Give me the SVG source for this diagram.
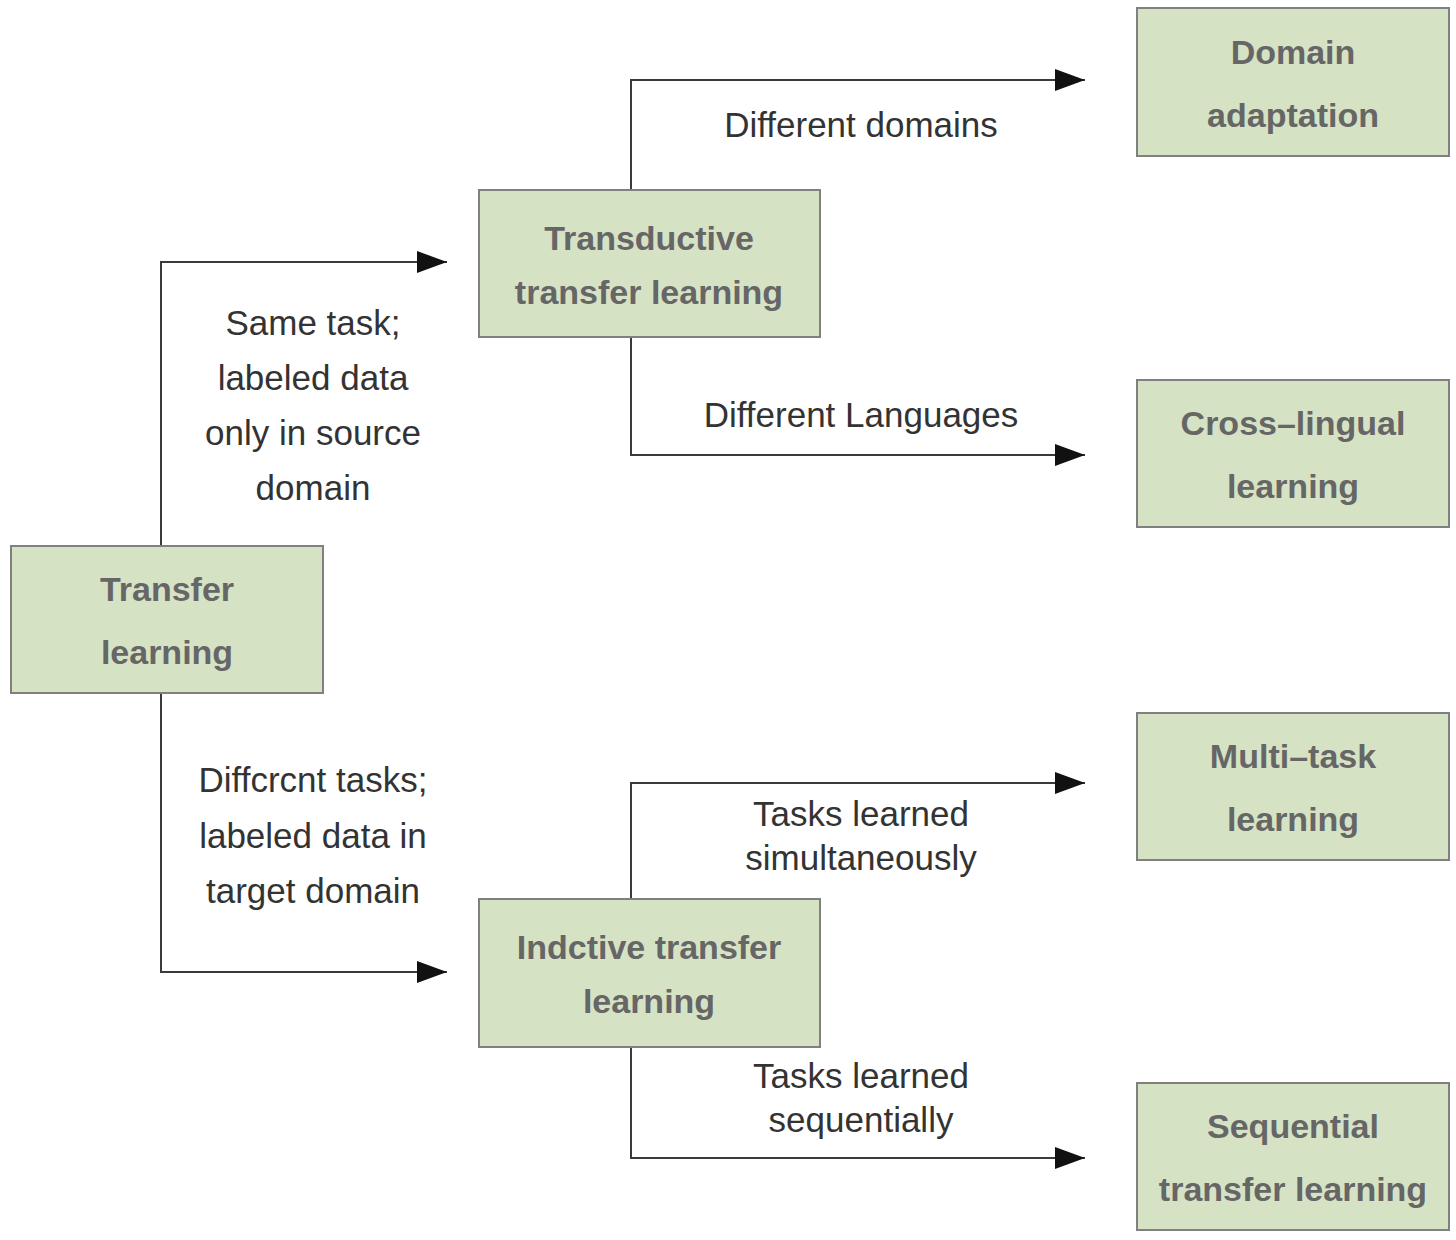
<svg xmlns="http://www.w3.org/2000/svg" width="1456" height="1240" viewBox="0 0 1456 1240">
<style>
.box{fill:#d6e2c4;stroke:#808080;stroke-width:2}
.nt{font-family:"Liberation Sans",Arial,sans-serif;font-size:34px;font-weight:bold;fill:#666;text-anchor:middle}
.lt{font-family:"Liberation Sans",Arial,sans-serif;font-size:35px;fill:#333;text-anchor:middle}
.ln{fill:none;stroke:#3a3a3a;stroke-width:2;marker-end:url(#arr)}
</style>
<defs>
<marker id="arr" markerUnits="userSpaceOnUse" markerWidth="30" markerHeight="22" refX="30" refY="11" orient="auto">
<path d="M0,0 L30,11 L0,22 Z" fill="#111"/>
</marker>
</defs>
<rect width="1456" height="1240" fill="#fff"/>
<g id="connectors">
<path class="ln" d="M161,546 V262 H447"/>
<path class="ln" d="M161,693 V972 H447"/>
<path class="ln" d="M631,190 V80 H1085"/>
<path class="ln" d="M631,337 V455 H1085"/>
<path class="ln" d="M631,899 V783 H1085"/>
<path class="ln" d="M631,1047 V1158 H1085"/>
</g>
<g id="labels">
<text class="lt" x="313" y="335">Same task;</text>
<text class="lt" x="313" y="390">labeled data</text>
<text class="lt" x="313" y="445">only in source</text>
<text class="lt" x="313" y="500">domain</text>
<text class="lt" x="313" y="792">Diffcrcnt tasks;</text>
<text class="lt" x="313" y="848">labeled data in</text>
<text class="lt" x="313" y="903">target domain</text>
<text class="lt" x="861" y="137">Different domains</text>
<text class="lt" x="861" y="427">Different Languages</text>
<text class="lt" x="861" y="826">Tasks learned</text>
<text class="lt" x="861" y="870">simultaneously</text>
<text class="lt" x="861" y="1088">Tasks learned</text>
<text class="lt" x="861" y="1132">sequentially</text>
</g>
<g id="transfer">
<rect class="box" x="11" y="546" width="312" height="147"/>
<text class="nt" x="167" y="601">Transfer</text>
<text class="nt" x="167" y="664">learning</text>
</g>
<g id="transductive">
<rect class="box" x="479" y="190" width="341" height="147"/>
<text class="nt" x="649" y="250">Transductive</text>
<text class="nt" x="649" y="304">transfer learning</text>
</g>
<g id="inductive">
<rect class="box" x="479" y="899" width="341" height="148"/>
<text class="nt" x="649" y="959">Indctive transfer</text>
<text class="nt" x="649" y="1013">learning</text>
</g>
<g id="domain">
<rect class="box" x="1137" y="8" width="312" height="148"/>
<text class="nt" x="1293" y="64">Domain</text>
<text class="nt" x="1293" y="127">adaptation</text>
</g>
<g id="crosslingual">
<rect class="box" x="1137" y="380" width="312" height="147"/>
<text class="nt" x="1293" y="435">Cross–lingual</text>
<text class="nt" x="1293" y="498">learning</text>
</g>
<g id="multitask">
<rect class="box" x="1137" y="713" width="312" height="147"/>
<text class="nt" x="1293" y="768">Multi–task</text>
<text class="nt" x="1293" y="831">learning</text>
</g>
<g id="sequential">
<rect class="box" x="1137" y="1083" width="312" height="147"/>
<text class="nt" x="1293" y="1138">Sequential</text>
<text class="nt" x="1293" y="1201">transfer learning</text>
</g>
</svg>
